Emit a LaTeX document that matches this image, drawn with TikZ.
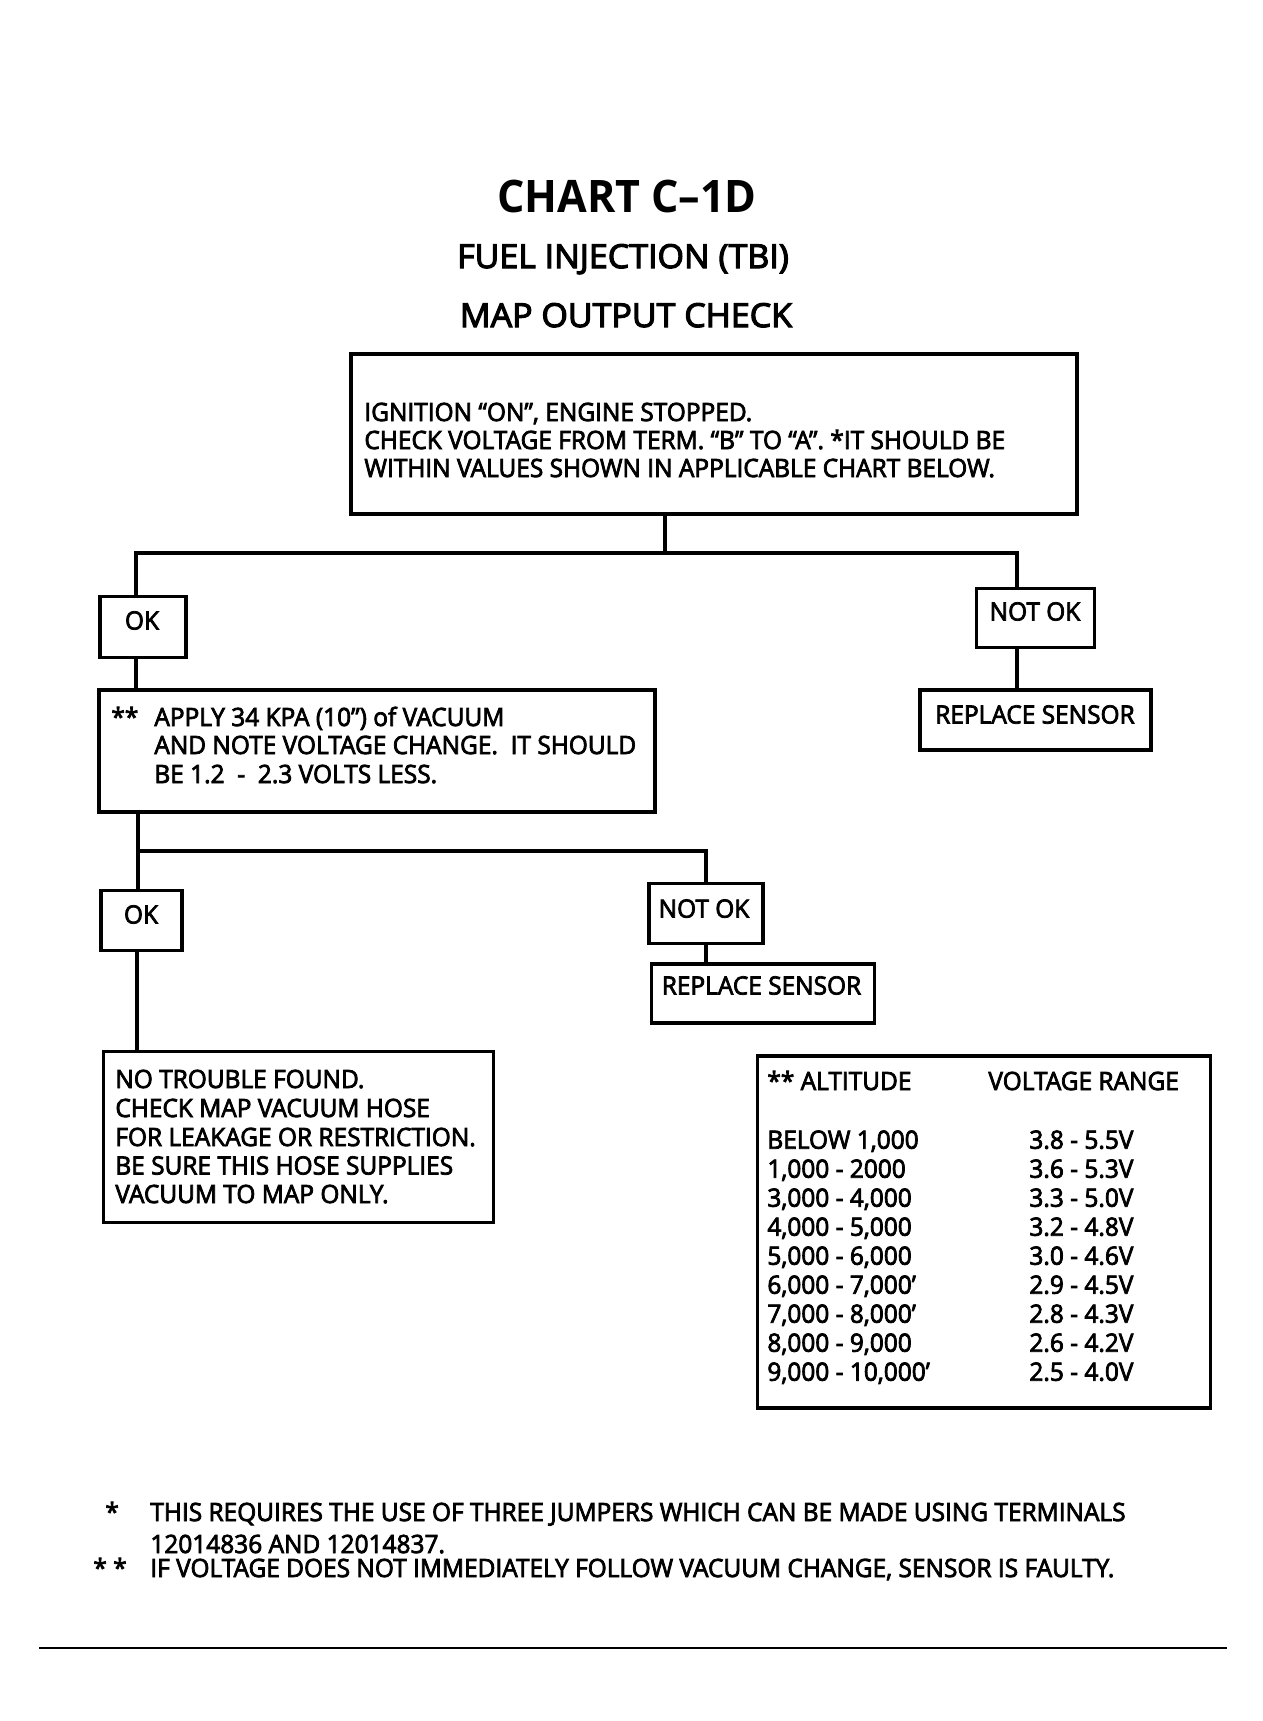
\documentclass[tikz,border=0pt]{standalone}
\usepackage{fontspec}
\setmainfont{Open Sans}[FakeStretch=0.97,FakeBold=3]
\newfontfamily\titlefont{Open Sans}[FakeStretch=0.96,BoldFont={* Bold}]
\newfontfamily\subfont{Open Sans}[FakeStretch=1.03,FakeBold=3.5]
\begin{document}
\begin{tikzpicture}[x=0.5pt,y=-0.5pt,
  bx/.style 2 args={draw, line width=1.8pt, minimum width=#1*0.5pt, minimum height=#2*0.5pt, inner sep=0pt, outer sep=0pt},
  conn/.style={line width=1.6pt},
  txt/.style={inner sep=0pt, anchor=base west, font=\fontsize{12.6}{14}\selectfont},
  ctxt/.style={inner sep=0pt, anchor=base, font=\fontsize{12.6}{14}\selectfont}]
\useasboundingbox[fill=white] (0,0) rectangle (1263,1721);

% titles
\node[inner sep=0pt, anchor=base, font=\titlefont\bfseries\fontsize{22.4}{26}\selectfont] (t1) at (627,212) {CHART C–1D};
\node[inner sep=0pt, anchor=base, font=\subfont\fontsize{16.5}{20}\selectfont] (t2) at (623,268) {FUEL INJECTION (TBI)};
\node[inner sep=0pt, anchor=base, font=\subfont\fontsize{16.5}{20}\selectfont] (t3) at (626,327) {MAP OUTPUT CHECK};

% boxes
\node[bx={726}{160}] (top) at (714,434) {};
\node[bx={86}{61}] (ok1) at (143,627) {};
\node[bx={118}{59}] (nok1) at (1035.5,618) {};
\node[bx={231}{60}] (rs1) at (1035.5,720) {};
\node[bx={556}{122}] (apply) at (377,751) {};
\node[bx={81}{60}] (ok2) at (141.5,920.6) {};
\node[bx={114}{60}] (nok2) at (705.8,913.5) {};
\node[bx={223}{59}] (rs2) at (763,993.2) {};
\node[bx={390}{171}] (ntf) at (298.5,1137) {};
\node[bx={453}{352}] (tbl) at (984,1232) {};

% texts
\node[txt] (a1) at (364,421) {IGNITION “ON”, ENGINE STOPPED.};
\node[txt] (a2) at (364,449) {CHECK VOLTAGE FROM TERM. “B” TO “A”.\ *IT SHOULD BE};
\node[txt] (a3) at (364,477) {WITHIN VALUES SHOWN IN APPLICABLE CHART BELOW.};

\node[ctxt] (k1) at (142,629.5) {OK};
\node[ctxt] (k2) at (1035,620.5) {NOT OK};
\node[ctxt] (k3) at (1035,723.5) {REPLACE SENSOR};

\node[txt] (b0) at (111,726) {**};
\node[txt] (b1) at (154,726) {APPLY 34 KPA (10”) of VACUUM};
\node[txt] (b2) at (154,754) {AND NOTE VOLTAGE CHANGE.\ \ IT SHOULD};
\node[txt] (b3) at (154,783) {BE 1.2\ \ -\ \ 2.3 VOLTS LESS.};

\node[ctxt] (k4) at (141,923.5) {OK};
\node[ctxt] (k5) at (704,917.6) {NOT OK};
\node[ctxt] (k6) at (761.5,994.5) {REPLACE SENSOR};

\node[txt] (c1) at (115,1088) {NO TROUBLE FOUND.};
\node[txt] (c2) at (115,1117) {CHECK MAP VACUUM HOSE};
\node[txt] (c3) at (115,1146) {FOR LEAKAGE OR RESTRICTION.};
\node[txt] (c4) at (115,1174.5) {BE SURE THIS HOSE SUPPLIES};
\node[txt] (c5) at (115,1203) {VACUUM TO MAP ONLY.};

% table
\node[txt] (h1) at (767,1090) {** ALTITUDE};
\node[txt] (h2) at (988,1090) {VOLTAGE RANGE};
\foreach \alt/\v [count=\n] in {BELOW 1{,}000/3.8 - 5.5V, 1{,}000 - 2000/3.6 - 5.3V, 3{,}000 - 4{,}000/3.3 - 5.0V, 4{,}000 - 5{,}000/3.2 - 4.8V, 5{,}000 - 6{,}000/3.0 - 4.6V, 6{,}000 - 7{,}000’/2.9 - 4.5V, 7{,}000 - 8{,}000’/2.8 - 4.3V, 8{,}000 - 9{,}000/2.6 - 4.2V, 9{,}000 - 10{,}000’/2.5 - 4.0V}{
  \pgfmathsetmacro\yy{1148.7+29*(\n-1)}
  \node[txt] (r\n) at (767,\yy) {\alt};
  \node[txt] (v\n) at (1029,\yy) {\v};
}

% footnotes
\node[txt] (f0) at (105,1521) {*};
\node[txt] (f1) at (150,1521) {THIS REQUIRES THE USE OF THREE JUMPERS WHICH CAN BE MADE USING TERMINALS};
\node[txt] (f2) at (150,1553) {12014836 AND 12014837.};
\node[txt] (g0) at (93,1577) {* *};
\node[txt] (g1) at (150,1577) {IF VOLTAGE DOES NOT IMMEDIATELY FOLLOW VACUUM CHANGE, SENSOR IS FAULTY.};

% connectors
\coordinate (j1) at (665,553);
\coordinate (bl) at (136,553);
\coordinate (br) at (1017,553);
\draw[conn] (top.south -| j1) -- (j1);
\draw[conn] (ok1.north -| bl) |- (br) -- (nok1.north -| br);
\draw[conn] (nok1.south -| br) -- (rs1.north -| br);
\draw[conn] (ok1.south -| bl) -- (apply.north -| bl);
\coordinate (j2) at (138,851);
\coordinate (j3) at (706,851);
\draw[conn] (apply.south -| j2) -- (ok2.north -| j2);
\draw[conn] (j2) -- (j3) -- (nok2.north -| j3);
\draw[conn] (nok2.south -| j3) -- (rs2.north -| j3);
\coordinate (j4) at (137,950);
\draw[conn] (ok2.south -| j4) -- (ntf.north -| j4);

% bottom rule
\coordinate (e1) at (39,1648);
\coordinate (e2) at (1227,1648);
\draw[line width=0.8pt] (e1) -- (e2);
\end{tikzpicture}
\end{document}
